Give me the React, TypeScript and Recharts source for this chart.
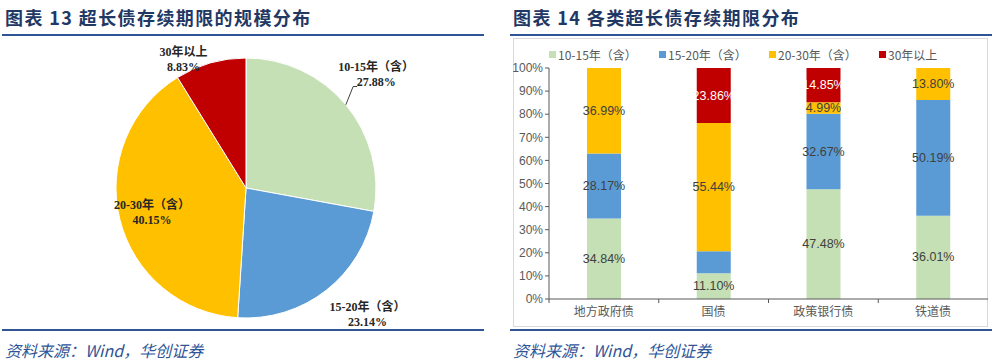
import React from 'react'
import {
  PieChart,
  Pie,
  Cell,
  BarChart,
  Bar,
  XAxis,
  YAxis,
  Legend,
  LabelList,
} from 'recharts'

// 图表13：超长债存续期限的规模分布
const pieNames = ['10-15年（含）', '15-20年（含）', '20-30年（含）', '30年以上']
const pieShares = [27.88, 23.14, 40.15, 8.83]

// 图表14：各类超长债存续期限分布
const barCategories = ['地方政府债', '国债', '政策银行债', '铁道债']
const share10to15 = [34.84, 11.1, 47.48, 36.01]
const share15to20 = [28.17, 9.6, 32.67, 50.19]
const share20to30 = [36.99, 55.44, 4.99, 13.8]
const share30plus = [0, 23.86, 14.85, 0]
const yTicks = [0, 10, 20, 30, 40, 50, 60, 70, 80, 90, 100]

const COLORS = ['#C5E0B4', '#5B9BD5', '#FFC000', '#C00000']
const SERIES_KEYS = ['s1', 's2', 's3', 's4']
// 原图中国债的15-20年段没有标注
const HIDDEN_LABELS = [{ key: 's2', category: '国债' }]

const TITLE_COLOR = '#1F3864'
const RULE_COLOR = '#2F5597'
const CJK = '"Noto Sans CJK SC", "Liberation Sans", sans-serif'
const SERIF = '"Liberation Serif", "Noto Sans CJK SC", serif'

const pieData = pieNames.map((name, i) => ({ name, value: pieShares[i] }))
const barData = barCategories.map((cat, i) => ({
  cat,
  s1: share10to15[i],
  s2: share15to20[i],
  s3: share20to30[i],
  s4: share30plus[i],
}))

// label radius and angle shift for each slice
const PIE_LABEL_POS = [
  { r: 173, dA: 1.4 },
  { r: 175, dA: 6 },
  { r: 97, dA: 0 },
  { r: 143, dA: 10 },
]
const RAD = Math.PI / 180

function PieLabel(props: any) {
  const { cx, cy, midAngle, outerRadius, index, name, value } = props
  const pos = PIE_LABEL_POS[index]
  const a = (midAngle + pos.dA) * RAD
  const x = cx + pos.r * Math.cos(a)
  const y = cy - pos.r * Math.sin(a)
  const ex = cx + outerRadius * Math.cos(midAngle * RAD)
  const ey = cy - outerRadius * Math.sin(midAngle * RAD)
  return (
    <g>
      {index === 0 && (
        <polyline
          points={`${ex},${ey} ${x - 23},${y + 12.5} ${x - 19},${y + 12.5}`}
          fill="none"
          stroke="#404040"
          strokeWidth={1}
        />
      )}
      <text
        x={x}
        y={y}
        textAnchor="middle"
        dominantBaseline="central"
        fontFamily={SERIF}
        fontWeight={700}
        fontSize={12}
        fill="#262626"
      >
        <tspan x={x} y={y - 7}>
          {name}
        </tspan>
        <tspan x={x} y={y + 8}>
          {value.toFixed(2)}%
        </tspan>
      </text>
    </g>
  )
}

function makeBarLabel(key: string, color: string) {
  return (props: any) => {
    const { x, y, width, height, value, index } = props
    if (!value) return null
    const cat = barCategories[index]
    if (HIDDEN_LABELS.some((h) => h.key === key && h.category === cat)) return null
    return (
      <text
        x={x + width / 2}
        y={y + height / 2}
        textAnchor="middle"
        dominantBaseline="central"
        fontFamily='"Liberation Sans", sans-serif'
        fontSize={12.5}
        fill={color}
      >
        {value.toFixed(2)}%
      </text>
    )
  }
}

const BAR_BOX = { left: 513, top: 38, width: 475, height: 289 }
const Y_AXIS_W = 36
const BAND = (BAR_BOX.width - Y_AXIS_W) / barCategories.length

function CategoryTick(props: any) {
  const { x, y, payload } = props
  const bx = x - BAND / 2
  return (
    <g>
      <line x1={bx} y1={y - 8} x2={bx} y2={y - 4} stroke="#595959" />
      <text
        x={x}
        y={y + 9}
        textAnchor="middle"
        fontFamily={CJK}
        fontSize={12}
        fill="#595959"
      >
        {payload.value}
      </text>
    </g>
  )
}

function BarLegend() {
  return (
    <div style={{ display: 'flex', fontFamily: CJK, fontSize: 12, color: '#595959', height: 17 }}>
      {pieNames.map((name, i) => (
        <div key={name} style={{ width: 115, display: 'flex', alignItems: 'center' }}>
          <span
            style={{
              display: 'inline-block',
              width: 7,
              height: 7,
              background: COLORS[i],
              marginRight: 2,
            }}
          />
          <span>{name}</span>
        </div>
      ))}
    </div>
  )
}

const titleStyle: React.CSSProperties = {
  position: 'absolute',
  top: 4,
  fontFamily: CJK,
  fontWeight: 700,
  fontSize: 18,
  color: TITLE_COLOR,
  letterSpacing: 1.4,
  whiteSpace: 'nowrap',
}

const sourceStyle: React.CSSProperties = {
  position: 'absolute',
  top: 338,
  fontFamily: CJK,
  fontStyle: 'italic',
  fontSize: 16,
  color: RULE_COLOR,
  whiteSpace: 'nowrap',
}

const rule = (left: number, width: number, top: number): React.CSSProperties => ({
  position: 'absolute',
  left,
  width,
  top,
  height: 2,
  background: RULE_COLOR,
})

export default function App() {
  return (
    <div
      style={{
        position: 'absolute',
        left: 0,
        top: 0,
        width: 1000,
        height: 361,
        background: '#fff',
        overflow: 'hidden',
      }}
    >
      <div style={{ ...titleStyle, left: 5 }}>图表 13 超长债存续期限的规模分布</div>
      <div style={{ ...titleStyle, left: 513 }}>图表 14 各类超长债存续期限分布</div>
      <div style={rule(2, 482, 34)} />
      <div style={rule(510, 482, 34)} />

      <div style={{ position: 'absolute', left: 0, top: 36 }}>
        <PieChart width={484} height={300} margin={{ top: 0, right: 0, bottom: 0, left: 0 }}>
          <Pie
            data={pieData}
            dataKey="value"
            nameKey="name"
            cx={246}
            cy={152}
            outerRadius={130}
            startAngle={90}
            endAngle={-270}
            stroke="#fff"
            strokeWidth={1}
            label={PieLabel}
            labelLine={false}
            isAnimationActive={false}
          >
            {pieData.map((d, i) => (
              <Cell key={d.name} fill={COLORS[i]} />
            ))}
          </Pie>
        </PieChart>
      </div>

      <div
        style={{
          position: 'absolute',
          left: BAR_BOX.left,
          top: BAR_BOX.top,
          width: BAR_BOX.width,
          height: BAR_BOX.height,
          border: '1px solid #D9D9D9',
          boxSizing: 'border-box',
        }}
      />
      <div style={{ position: 'absolute', left: BAR_BOX.left, top: BAR_BOX.top }}>
        <BarChart
          width={BAR_BOX.width}
          height={BAR_BOX.height}
          data={barData}
          margin={{ top: 13, right: 0, left: 0, bottom: 0 }}
          barSize={34}
        >
          <Legend
            verticalAlign="top"
            height={17}
            content={<BarLegend />}
            wrapperStyle={{ top: 8, left: Y_AXIS_W, width: 440 }}
          />
          <XAxis
            dataKey="cat"
            height={28}
            tickLine={false}
            axisLine={{ stroke: '#595959' }}
            tick={<CategoryTick />}
            interval={0}
          />
          <YAxis
            width={Y_AXIS_W}
            domain={[0, 100]}
            ticks={yTicks}
            tickFormatter={(v: number) => `${v}%`}
            tick={{ fill: '#595959', fontSize: 12, fontFamily: '"Liberation Sans", sans-serif' }}
            axisLine={{ stroke: '#595959' }}
            tickLine={{ stroke: '#595959' }}
            tickSize={4}
            allowDataOverflow
          />
          {SERIES_KEYS.map((key, i) => (
            <Bar
              key={key}
              dataKey={key}
              name={pieNames[i]}
              stackId="a"
              fill={COLORS[i]}
              isAnimationActive={false}
            >
              <LabelList dataKey={key} content={makeBarLabel(key, i === 3 ? '#fff' : '#404040')} />
            </Bar>
          ))}
        </BarChart>
      </div>

      <div style={rule(2, 482, 329)} />
      <div style={rule(510, 482, 329)} />
      <div style={{ ...sourceStyle, left: 5 }}>资料来源：Wind，华创证券</div>
      <div style={{ ...sourceStyle, left: 513 }}>资料来源：Wind，华创证券</div>
    </div>
  )
}
